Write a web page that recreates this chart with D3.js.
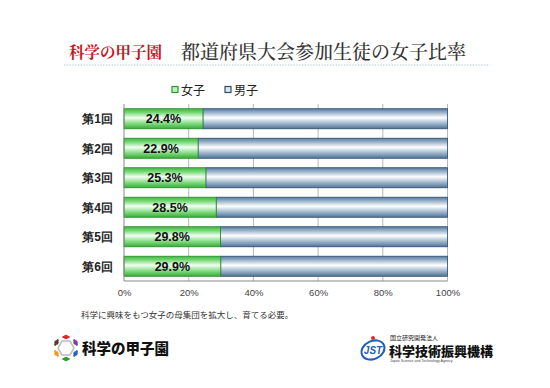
<!DOCTYPE html>
<html>
<head>
<meta charset="utf-8">
<script src="https://cdn.jsdelivr.net/npm/d3@7"></script>
<style>
  body { margin: 0; background: #fff; }
  svg { display: block; font-family: "Noto Sans CJK JP", "Noto Sans", sans-serif; }
</style>
</head>
<body>
<div id="chart-area"></div>
<script>
// data
const rounds = ["第1回", "第2回", "第3回", "第4回", "第5回", "第6回"]
const female = [24.4, 22.9, 25.3, 28.5, 29.8, 29.9]
const seriesNames = ["女子", "男子"]
const xTicks = [0, 20, 40, 60, 80, 100]

const W = 550, H = 388
const MARGIN = { LEFT: 124, TOP: 104 }

const svg = d3.select("#chart-area").append("svg")
  .attr("width", W)
  .attr("height", H)

svg.append("rect").attr("width", W).attr("height", H).attr("fill", "#fff")

const defs = svg.append("defs")
function grad(id, stops) {
  const lg = defs.append("linearGradient").attr("id", id)
    .attr("x1", 0).attr("y1", 0).attr("x2", 0).attr("y2", 1)
  stops.forEach(s => lg.append("stop").attr("offset", s[0]).attr("stop-color", s[1]))
}
grad("gF", [[0, "#3db83d"], [0.2, "#7ad87a"], [0.45, "#f2fff2"], [0.7, "#8fe08f"], [1, "#34ad34"]])
grad("gM", [[0, "#557a9e"], [0.2, "#9db5cc"], [0.45, "#ffffff"], [0.7, "#a9bfd3"], [1, "#4f7398"]])

// title
svg.append("text")
  .attr("x", 69).attr("y", 58)
  .attr("font-family", "'Noto Serif CJK JP', 'Noto Sans CJK JP', serif")
  .attr("font-size", "15.5px").attr("font-weight", "bold")
  .attr("fill", "#c8141e")
  .text("科学の甲子園")
svg.append("text")
  .attr("x", 181).attr("y", 59)
  .attr("font-family", "'Noto Serif CJK JP', 'Noto Sans CJK JP', serif")
  .attr("font-size", "19px").attr("font-weight", "500")
  .attr("fill", "#333")
  .text("都道府県大会参加生徒の女子比率")
svg.append("line")
  .attr("x1", 64).attr("x2", 490).attr("y1", 65).attr("y2", 65)
  .attr("stroke", "#a9bfd3").attr("stroke-width", 1.2)
  .attr("stroke-dasharray", "1.2,1.6")

const g = svg.append("g").attr("transform", `translate(${MARGIN.LEFT}, ${MARGIN.TOP})`)

const x = d3.scaleLinear().domain([0, 100]).range([0, 323.5])
const y = d3.scaleBand().domain(rounds).range([0, 177])
  .paddingInner(0.32).paddingOuter(0.16)

// grid
g.selectAll(".grid").data(xTicks.slice(1)).enter().append("line")
  .attr("x1", d => x(d)).attr("x2", d => x(d))
  .attr("y1", 0).attr("y2", 177)
  .attr("stroke", "#b8b8b8")

// bars
const rows = rounds.map((r, i) => ({ r, f: female[i], m: 100 - female[i] }))
g.selectAll(".bm").data(rows).enter().append("rect")
  .attr("x", d => x(d.f)).attr("y", d => y(d.r))
  .attr("width", d => x(100) - x(d.f)).attr("height", y.bandwidth())
  .attr("fill", "url(#gM)").attr("stroke", "#2f4e6e").attr("stroke-width", 0.8)
g.selectAll(".bf").data(rows).enter().append("rect")
  .attr("x", 0).attr("y", d => y(d.r))
  .attr("width", d => x(d.f)).attr("height", y.bandwidth())
  .attr("fill", "url(#gF)").attr("stroke", "#2a8a2a").attr("stroke-width", 0.8)

g.selectAll(".lbl").data(rows).enter().append("text")
  .attr("x", d => x(d.f) / 2).attr("y", d => y(d.r) + y.bandwidth() / 2 + 4.5)
  .attr("text-anchor", "middle")
  .attr("font-family", "'Liberation Sans', Arial, sans-serif")
  .attr("font-size", "12.5px").attr("font-weight", "bold").attr("fill", "#111")
  .text(d => d.f.toFixed(1) + "%")

// axes
g.append("line").attr("x1", 0).attr("x2", 0).attr("y1", 0).attr("y2", 177)
  .attr("stroke", "#888")
g.append("line").attr("x1", 0).attr("x2", x(100)).attr("y1", 177).attr("y2", 177)
  .attr("stroke", "#888")

const xAxisCall = d3.axisBottom(x).tickValues(xTicks).tickSize(0).tickFormat(d => d + "%")
const xa = g.append("g").attr("transform", `translate(0, 177)`).call(xAxisCall)
xa.select(".domain").remove()
xa.selectAll("text")
  .attr("dy", 0).attr("y", 14.5)
  .attr("font-family", "'Liberation Sans', Arial, sans-serif")
  .attr("font-size", "9.5px").attr("fill", "#444")

const yAxisCall = d3.axisLeft(y).tickSize(0)
const ya = g.append("g").call(yAxisCall)
ya.select(".domain").remove()
ya.selectAll("text")
  .attr("x", -11).attr("dy", "0.36em")
  .attr("font-size", "12px").attr("font-weight", "bold").attr("fill", "#222")

// legend
const legend = svg.append("g").attr("transform", "translate(172, 90)")
seriesNames.forEach((s, i) => {
  const row = legend.append("g").attr("transform", `translate(${i * 53}, 0)`)
  row.append("rect").attr("x", 0).attr("y", -3.5).attr("width", 6).attr("height", 6)
    .attr("fill", i ? "#dbe5ee" : "#bfeebf")
    .attr("stroke", i ? "#2f4e6e" : "#2a9a2a").attr("stroke-width", 1.2)
  row.append("text").attr("x", 9).attr("y", 4.5)
    .attr("font-size", "12px").attr("fill", "#222")
    .text(s)
})

// footnote
svg.append("text")
  .attr("x", 81).attr("y", 318)
  .attr("font-size", "8.5px").attr("fill", "#333")
  .text("科学に興味をもつ女子の母集団を拡大し、育てる必要。")

// left logo
const lg = svg.append("g").attr("transform", "translate(66, 348)")
lg.append("polygon")
  .attr("points", d3.range(6).map(i => {
    const a = Math.PI / 3 * i
    return [8 * Math.cos(a), 8 * Math.sin(a)].join(",")
  }).join(" "))
  .attr("fill", "none").attr("stroke", "#bbb").attr("stroke-width", 1.5)
const figColors = ["#e8262a", "#7b3fa0", "#2a62b8", "#2aa02a", "#f39a1a", "#5a3a2a"]
figColors.forEach((c, i) => {
  const a = -Math.PI / 2 + Math.PI / 3 * i
  const cx = 11 * Math.cos(a), cy = 11 * Math.sin(a)
  lg.append("circle").attr("cx", cx).attr("cy", cy).attr("r", 2.2).attr("fill", c)
  lg.append("line")
    .attr("x1", cx - 3.5 * Math.sin(a)).attr("y1", cy + 3.5 * Math.cos(a))
    .attr("x2", cx + 3.5 * Math.sin(a)).attr("y2", cy - 3.5 * Math.cos(a))
    .attr("stroke", c).attr("stroke-width", 2)
})
svg.append("text")
  .attr("x", 82).attr("y", 354)
  .attr("font-size", "14.5px").attr("font-weight", "900").attr("fill", "#111")
  .text("科学の甲子園")

// right logo
const rg = svg.append("g").attr("transform", "translate(373, 350)")
rg.append("ellipse").attr("rx", 12).attr("ry", 9)
  .attr("transform", "rotate(-25)")
  .attr("fill", "none").attr("stroke", "#1f5fb5").attr("stroke-width", 2)
rg.append("text").attr("x", 0).attr("y", 3.5).attr("text-anchor", "middle")
  .attr("font-family", "'Liberation Sans', Arial, sans-serif")
  .attr("font-size", "10px").attr("font-weight", "bold").attr("font-style", "italic")
  .attr("fill", "#1f5fb5").text("JST")
rg.append("circle").attr("cx", 0).attr("cy", -12).attr("r", 2).attr("fill", "#e8262a")
svg.append("text")
  .attr("x", 390).attr("y", 340)
  .attr("font-size", "6px").attr("fill", "#222")
  .text("国立研究開発法人")
svg.append("text")
  .attr("x", 389).attr("y", 356)
  .attr("font-size", "13px").attr("font-weight", "900").attr("fill", "#111")
  .attr("textLength", 104).attr("lengthAdjust", "spacingAndGlyphs")
  .text("科学技術振興機構")
svg.append("text")
  .attr("x", 390).attr("y", 361.5)
  .attr("font-family", "'Liberation Sans', Arial, sans-serif")
  .attr("font-size", "3.6px").attr("fill", "#444")
  .text("Japan Science and Technology Agency")
</script>
</body>
</html>
